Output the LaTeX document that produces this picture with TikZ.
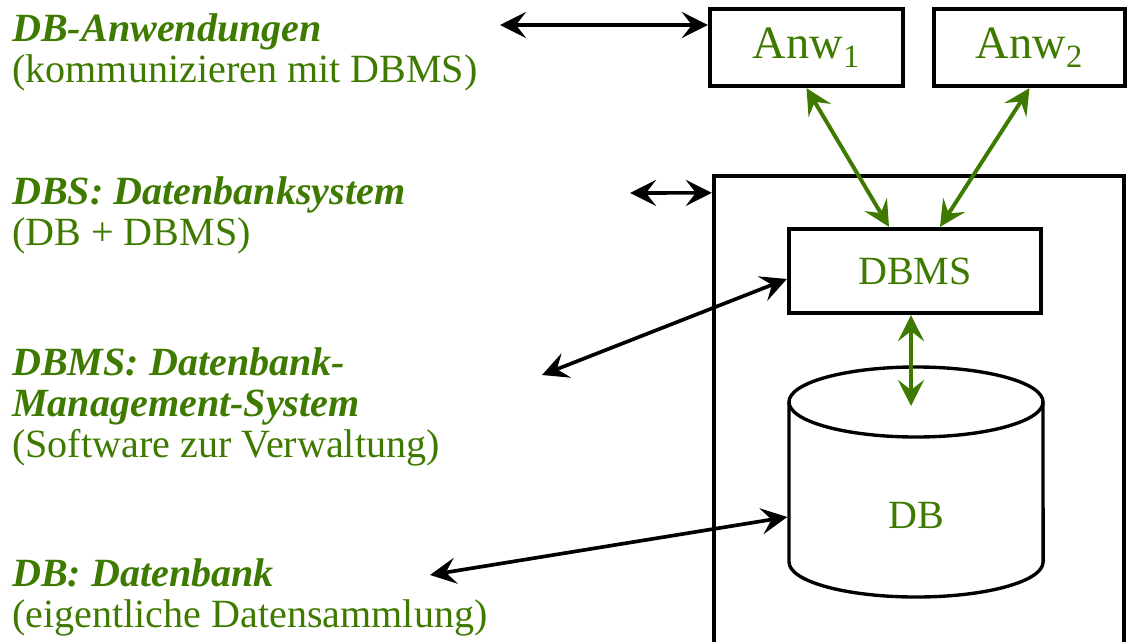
\documentclass[tikz,border=0pt]{standalone}
\usepackage{fontspec}
\setmainfont{Liberation Serif}
\usetikzlibrary{arrows.meta}
\definecolor{dbgreen}{RGB}{63,122,0}

\begin{document}
\begin{tikzpicture}[x=0.025cm, y=0.025cm,
    box/.style={draw, line width=3pt, inner sep=0pt, text=dbgreen, font=\fontsize{28.5}{29}\selectfont},
    cyl/.style={line width=2.4pt},
    lbl/.style={text=dbgreen, font=\fontsize{28.5}{29}\selectfont, align=left, inner sep=0pt, anchor=base west},
    blk/.style={>={Stealth[length=0.65cm, width=0.65cm, inset=0.25cm]}, <->, line width=2.6pt},
    grn/.style={blk, color=dbgreen, line width=2.8pt}]
    \useasboundingbox (0,0) rectangle (1128,641);

    % Nodes
    \node[box, minimum width=4.825cm, minimum height=1.925cm, font=\fontsize{33}{33}\selectfont] (anw1) at (806.5,593.5) {Anw\textsubscript{1}};
    \node[box, minimum width=4.775cm, minimum height=1.925cm, font=\fontsize{33}{33}\selectfont] (anw2) at (1029.5,593.5) {Anw\textsubscript{2}};
    \node[box, minimum width=10.25cm, minimum height=14.125cm] (dbs) at (919,182.5) {};
    \node[box, minimum width=6.3cm, minimum height=2.1cm] (dbms) at (915,370) {DBMS};
    \node[text=dbgreen, font=\fontsize{28.5}{29}\selectfont, minimum width=6.35cm, minimum height=4cm, outer sep=1.2pt] (db) at (916,126) {DB};

    % Cylinder
    \draw[cyl] (789,239) -- (789,79) arc[start angle=180, end angle=360, x radius=3.175cm, y radius=0.875cm] -- (1043,239);
    \draw[cyl] (916,239) ellipse[x radius=3.175cm, y radius=0.875cm];

    % Labels (anchored at the last line)
    \node[lbl] (anwtxt) at (12,559) {\textbf{\textit{DB-Anwendungen}}\\(kommunizieren mit DBMS)};
    \node[lbl] (dbstxt) at (12,396) {\textbf{\textit{DBS: Datenbanksystem}}\\(DB + DBMS)};
    \node[lbl] (dbmstxt) at (12,184) {\textbf{\textit{DBMS: Datenbank-}}\\\textbf{\textit{Management-System}}\\(Software zur Verwaltung)};
    \node[lbl] (dbtxt) at (12,14) {\textbf{\textit{DB: Datenbank}}\\(eigentliche Datensammlung)};

    \coordinate (a1) at (500,616);
    \coordinate (a2) at (630,448);
    \coordinate (a3) at (542,266);
    \coordinate (a4) at (430,66);
    \coordinate (dbtop) at (911,235);

    % Edges
    \draw[blk] (a1) -- ([yshift=0.5625cm]anw1.west);
    \draw[blk] (a2) -- ([yshift=-0.475cm]dbs.north west);
    \draw[blk] (a3) -- ([yshift=-0.2cm]dbms.west);
    \draw[blk] (a4) -- ([yshift=-0.05cm]db.west);
    \draw[grn] (anw1.south) -- ([xshift=-0.65cm]dbms.north);
    \draw[grn] (anw2.south) -- ([xshift=0.625cm]dbms.north);
    \draw[grn] ([xshift=-0.1cm]dbms.south) -- (dbtop);
\end{tikzpicture}
\end{document}
